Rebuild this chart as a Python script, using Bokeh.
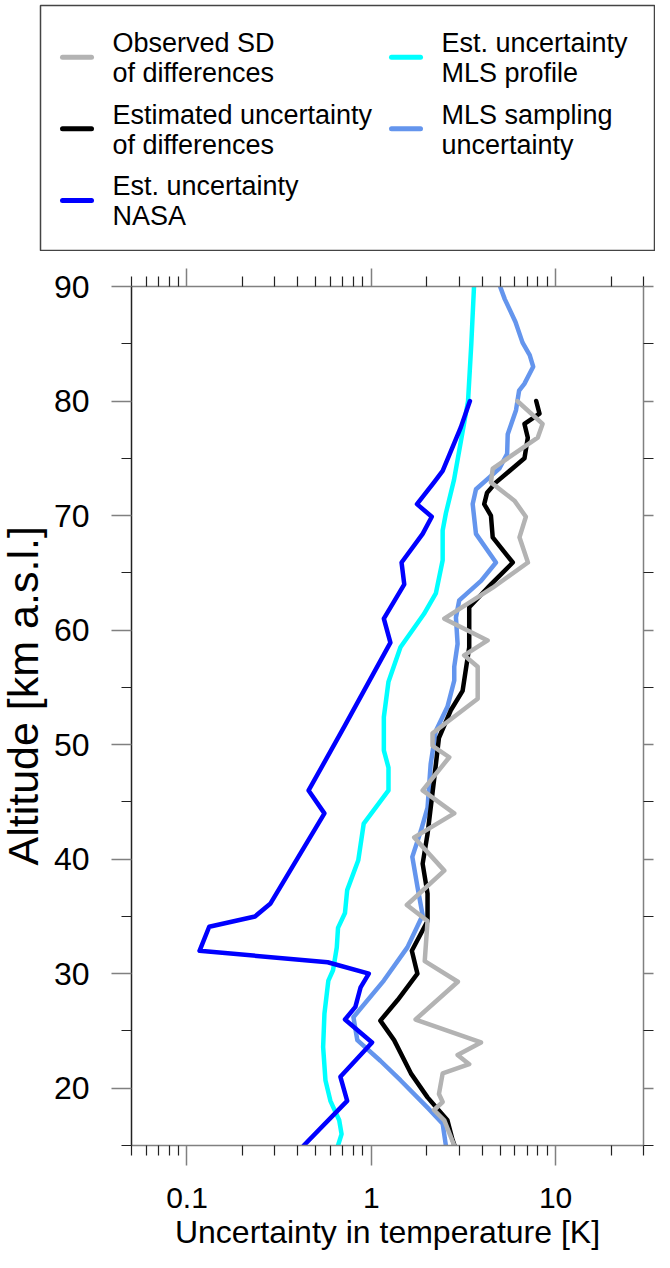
from bokeh.plotting import figure
from bokeh.models import (Range1d, FixedTicker, LinearAxis, LogAxis, CustomJSTickFormatter,
                          ColumnDataSource)
from bokeh.layouts import column, row
from bokeh.embed import file_html
from bokeh.resources import INLINE
from bokeh.core.properties import value
import math

FONT = "Liberation Sans"

# ---------------- data (altitude in km, uncertainty in K) ----------------
gray_alt = [80, 78, 76.8, 74.1, 72.9, 71.3, 69.9, 68.1, 65.9, 63.7, 61.0, 59.1, 57.8, 56.8, 54.0, 51.0,
            49.9, 48.9, 46.0, 44.0, 41.9, 39.0, 36.0, 34.6, 31.1, 29.3, 26.0, 24.0, 22.9, 22.1, 21.3,
            19.5, 18.8, 18.1, 17.2, 15]
gray_val = [6.2, 8.5, 8.0, 4.56, 4.46, 5.98, 6.9, 6.37, 7.08, 4.56, 2.49, 4.28, 3.19, 3.78, 3.78, 2.15,
            2.15, 2.65, 1.90, 2.82, 1.71, 2.49, 1.56, 2.02, 1.95, 2.95, 1.74, 3.94, 2.94, 3.40, 2.44,
            2.33, 2.44, 2.19, 2.49, 2.82]

black_alt = [80, 78.9, 78, 76.8, 75, 72.9, 72, 71, 70, 68.1, 65.9, 64, 62, 58.5, 54.7, 53, 50.6, 46.9,
             42.2, 39.6, 37, 34.6, 32, 30, 27.7, 25.9, 24.2, 21.3, 19.2, 17.2, 15.5, 15]
black_val = [7.85, 8.18, 6.78, 7.07, 6.78, 4.75, 4.25, 4.10, 4.46, 4.56, 5.86, 4.46, 3.40, 3.40, 3.13,
             2.70, 2.33, 2.19, 2.02, 1.90, 2.02, 2.02, 1.66, 1.78, 1.39, 1.12, 1.33, 1.64, 2.02, 2.59,
             2.76, 2.83]

nasa_alt = [80, 77.7, 73.9, 72.9, 71.0, 69.9, 68.4, 65.9, 64.0, 61.0, 58.9, 51.5, 46.0, 44.0, 36.1,
            35.0, 34.1, 32.0, 31.0, 30.0, 28.8, 27.1, 26.0, 24.0, 21.0, 18.9, 15]
nasa_val = [3.43, 3.06, 2.44, 2.19, 1.77, 2.13, 1.90, 1.46, 1.51, 1.17, 1.27, 0.71, 0.457, 0.557, 0.283,
            0.234, 0.132, 0.117, 0.58, 0.97, 0.875, 0.82, 0.72, 1.01, 0.68, 0.74, 0.43]

mls_alt = [90, 85, 80, 73.1, 70.2, 68.7, 66.1, 63.2, 61.4, 58.5, 55.5, 52.4, 49.5, 48.0, 46.0, 43.1,
           39.9, 37.3, 35.3, 34.0, 32.3, 30.3, 29.4, 26.5, 23.6, 20.7, 18.9, 17.2, 16.0, 15]
mls_val = [3.61, 3.49, 3.35, 2.81, 2.54, 2.44, 2.44, 2.24, 1.93, 1.44, 1.24, 1.17, 1.17, 1.24, 1.24,
           0.91, 0.85, 0.74, 0.72, 0.66, 0.65, 0.62, 0.585, 0.557, 0.548, 0.564, 0.60, 0.67, 0.69, 0.66]

samp_alt = [90, 88.9, 86.9, 85.1, 84.0, 83.0, 81.5, 80.9, 79.2, 77.1, 75.4, 74.1, 72.3, 71.0, 68.4,
            65.9, 64.3, 62.6, 61.1, 58.8, 56.8, 55.6, 53.3, 51.2, 48.3, 44.5, 42.5, 40.2, 37.6, 35.1,
            32.3, 29.4, 26.2, 24.2, 22.4, 20.7, 18.3, 16.9, 15]
samp_val = [5.0, 5.3, 6.06, 6.62, 7.24, 7.56, 6.77, 6.34, 6.1, 5.5, 5.46, 4.95, 3.70, 3.55, 3.70,
            4.75, 3.94, 3.0, 2.88, 2.94, 2.82, 2.82, 2.59, 2.24, 2.10, 2.02, 1.86, 1.67, 1.78, 1.90,
            1.57, 1.17, 0.80, 0.84, 1.12, 1.44, 2.02, 2.44, 2.54]

series_labels = ["Observed SD\nof differences", "Estimated uncertainty\nof differences",
                 "Est. uncertainty\nNASA", "Est. uncertainty\nMLS profile",
                 "MLS sampling\nuncertainty"]
series_colors = ["#B3B3B3", "#000000", "#0000FF", "#00FFFF", "#6495ED"]

x_major = [0.1, 1, 10]
x_minor = [0.05, 0.06, 0.07, 0.08, 0.09, 0.2, 0.3, 0.4, 0.5, 0.6, 0.7, 0.8, 0.9,
           2, 3, 4, 5, 6, 7, 8, 9, 20, 30]
y_major = [20, 30, 40, 50, 60, 70, 80, 90]
y_minor = [15, 25, 35, 45, 55, 65, 75, 85]
x_title = "Uncertainty in temperature [K]"
y_title = "Altitude [km a.s.l.]"


def bare(fig):
    fig.frame_align = False
    fig.xaxis.visible = False
    fig.yaxis.visible = False
    fig.xgrid.visible = False
    fig.ygrid.visible = False
    fig.background_fill_color = "white"
    fig.border_fill_color = "white"


# ---------------- legend panel ----------------
leg = figure(width=655, height=251, frame_width=615, frame_height=246,
             min_border_left=40, min_border_right=0, min_border_top=5, min_border_bottom=0,
             x_range=Range1d(0, 615), y_range=Range1d(246, 0),
             output_backend="svg", toolbar_location=None)
bare(leg)
leg.outline_line_color = "#444444"
leg.outline_line_width = 1.5

col_x = [22, 22, 22, 351, 351]
row_y = [51.7, 123.3, 195, 51.7, 123.3]
for lab, c, cx, ry in zip(series_labels, series_colors, col_x, row_y):
    leg.line(x=[cx, cx + 29], y=[ry, ry], line_color=c, line_width=5, line_cap="round")
    l1, l2 = lab.split("\n")
    leg.text(x=[cx + 50, cx + 50], y=[ry - 14.2, ry + 15.8], text=[l1, l2],
             text_font=value(FONT), text_font_size="27px", text_color="black",
             text_baseline="middle", text_align="left")

# ---------------- y-title strip ----------------
ystrip = figure(width=50, height=900, frame_width=50, frame_height=900,
                min_border_left=0, min_border_right=0, min_border_top=0, min_border_bottom=0,
                x_range=Range1d(0, 50), y_range=Range1d(900, 0),
                output_backend="svg", toolbar_location=None)
bare(ystrip)
ystrip.outline_line_color = None
ystrip.text(x=[22], y=[614], text=[y_title], angle=math.pi / 2,
            text_font=value(FONT), text_font_size="43px", text_color="black",
            text_baseline="middle", text_align="left")

# ---------------- main panel ----------------
p = figure(frame_width=512, frame_height=859,
           min_border_left=81, min_border_right=20, min_border_top=35, min_border_bottom=115,
           x_axis_type="log", x_range=Range1d(0.05, 30), y_range=Range1d(15, 90),
           output_backend="svg", toolbar_location=None)
p.frame_align = False
p.xgrid.visible = False
p.ygrid.visible = False
p.outline_line_color = None
p.background_fill_color = "white"
p.border_fill_color = "white"

xt = FixedTicker(ticks=x_major, minor_ticks=x_minor)
yt = FixedTicker(ticks=y_major, minor_ticks=y_minor)
fmt = CustomJSTickFormatter(code="return tick.toString();")
blank = CustomJSTickFormatter(code="return '';")


def style(ax, major_out, minor_out, line_color="#808080"):
    ax.axis_line_color = line_color
    ax.axis_line_width = 1.5
    ax.major_tick_line_color = "#808080"
    ax.major_tick_line_width = 1.5
    ax.minor_tick_line_color = "#222222"
    ax.minor_tick_line_width = 1.2
    ax.major_tick_in = 0
    ax.minor_tick_in = 0
    ax.major_tick_out = major_out
    ax.minor_tick_out = minor_out
    ax.major_label_text_font = FONT
    ax.major_label_text_color = "black"


xb = p.xaxis[0]
xb.ticker = xt
xb.formatter = fmt
style(xb, 20, 10)
xb.major_label_text_font_size = "30px"
xb.major_label_standoff = 22
xb.axis_label = x_title
xb.axis_label_text_font = FONT
xb.axis_label_text_font_size = "32px"
xb.axis_label_text_font_style = "normal"
xb.axis_label_text_color = "black"
xb.axis_label_standoff = 3

yl = p.yaxis[0]
yl.ticker = yt
style(yl, 20, 10, line_color="#222222")
yl.major_label_text_font_size = "32px"
yl.major_label_standoff = 22
yl.major_label_orientation = "horizontal"

xtop = LogAxis(ticker=xt, formatter=blank)
style(xtop, 18, 10)
xtop.major_label_standoff = 0
p.add_layout(xtop, "above")

yr = LinearAxis(ticker=yt, formatter=blank)
style(yr, 10, 10)
yr.major_label_standoff = 0
p.add_layout(yr, "right")

# draw series (bottom to top)
order = [(samp_val, samp_alt, 4), (mls_val, mls_alt, 3), (nasa_val, nasa_alt, 2),
         (black_val, black_alt, 1), (gray_val, gray_alt, 0)]
for xv, yv, i in order:
    src = ColumnDataSource(dict(x=xv, y=yv))
    p.line("x", "y", source=src, line_color=series_colors[i], line_width=4.5,
           line_join="round", line_cap="round")

layout = column(leg, row(ystrip, p, spacing=0), spacing=0)
open("out.html", "w").write(file_html(layout, INLINE))
